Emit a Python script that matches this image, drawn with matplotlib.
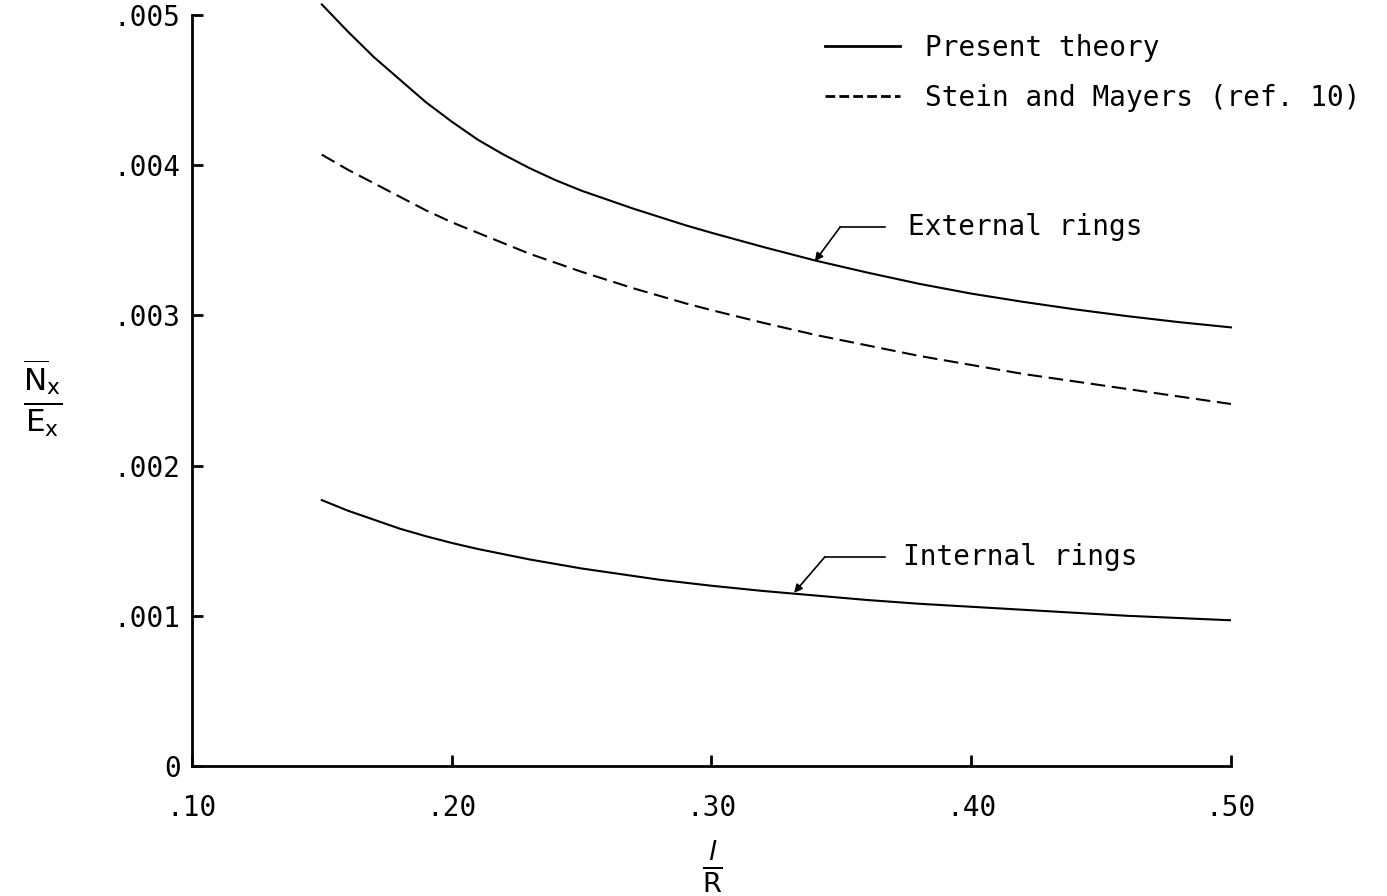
import matplotlib
matplotlib.use("Agg")
import matplotlib.pyplot as plt
from matplotlib.lines import Line2D

plt.rcParams['font.family'] = ['DejaVu Sans Mono', 'DejaVu Sans']
plt.rcParams['mathtext.fontset'] = 'custom'
plt.rcParams['mathtext.rm'] = 'DejaVu Sans'
plt.rcParams['mathtext.it'] = 'DejaVu Sans:italic'

# l/R values
x = [0.15, 0.16, 0.17, 0.18, 0.19, 0.20, 0.21, 0.22, 0.23, 0.24, 0.25, 0.26,
     0.27, 0.28, 0.29, 0.30, 0.32, 0.34, 0.36, 0.38, 0.40, 0.42, 0.44, 0.46,
     0.48, 0.50]

# Present theory, external rings
ext_present = [0.00507, 0.00489, 0.00472, 0.00457, 0.00442, 0.00429, 0.00417,
               0.00407, 0.00398, 0.00390, 0.00383, 0.00377, 0.00371, 0.003655,
               0.00360, 0.00355, 0.003455, 0.003365, 0.003285, 0.00321,
               0.003145, 0.00309, 0.00304, 0.002995, 0.002955, 0.00292]
# Stein and Mayers (ref. 10)
ext_stein = [0.00407, 0.00397, 0.00388, 0.00379, 0.00370, 0.00362, 0.00355,
             0.00348, 0.00341, 0.00335, 0.00329, 0.003235, 0.00318, 0.00313,
             0.00308, 0.003035, 0.00295, 0.00287, 0.00280, 0.00273, 0.00267,
             0.00261, 0.00256, 0.00251, 0.00246, 0.00241]
# Present theory, internal rings
int_present = [0.00177, 0.00170, 0.00164, 0.00158, 0.00153, 0.001485, 0.001445,
               0.00141, 0.001375, 0.001345, 0.001315, 0.00129, 0.001265, 0.00124,
               0.00122, 0.00120, 0.001165, 0.001135, 0.001105, 0.00108, 0.00106,
               0.00104, 0.00102, 0.00100, 0.000985, 0.00097]

xticks = [0.10, 0.20, 0.30, 0.40, 0.50]
xticklabels = [".10", ".20", ".30", ".40", ".50"]
yticks = [0, 0.001, 0.002, 0.003, 0.004, 0.005]
yticklabels = ["0", ".001", ".002", ".003", ".004", ".005"]

fig = plt.figure(figsize=(13.87, 8.96), dpi=100)
ax = fig.add_axes([0.1384, 0.1451, 0.7491, 0.8382])

lw = 1.5
ax.plot(x, ext_present, color="black", lw=lw, clip_on=False)
ax.plot(x, ext_stein, color="black", lw=lw, linestyle=(0, (7, 3.2)))
ax.plot(x, int_present, color="black", lw=lw)

ax.set_xlim(0.10, 0.50)
ax.set_ylim(0, 0.005)
ax.set_xticks(xticks)
ax.set_xticklabels(xticklabels)
ax.set_yticks(yticks)
ax.set_yticklabels(yticklabels)
ax.tick_params(direction="in", length=8, width=2, labelsize=20)
ax.tick_params(axis="x", pad=20)
ax.tick_params(axis="y", pad=8)
for s in ["top", "right"]:
    ax.spines[s].set_visible(False)
for s in ["left", "bottom"]:
    ax.spines[s].set_linewidth(2)

# leader lines for the curve labels
arrow = dict(arrowstyle="-|>", color="black", lw=1.2, mutation_scale=12,
             shrinkA=0, shrinkB=0)
ax.annotate("", xy=(0.3398, 0.00336), xytext=(0.3495, 0.003587), arrowprops=arrow)
ax.plot([0.3495, 0.3668], [0.003587, 0.003587], color="black", lw=1.2)
ax.text(0.3757, 0.003587, "External rings", fontsize=20, va="center", ha="left")

ax.annotate("", xy=(0.3318, 0.001153), xytext=(0.3437, 0.001393), arrowprops=arrow)
ax.plot([0.3437, 0.3668], [0.001393, 0.001393], color="black", lw=1.2)
ax.text(0.3737, 0.001393, "Internal rings", fontsize=20, va="center", ha="left")

handles = [Line2D([], [], color="black", lw=2),
           Line2D([], [], color="black", lw=2, linestyle=(0, (3.5, 1.5)))]
fig.legend(handles, ["Present theory", "Stein and Mayers (ref. 10)"],
           loc="upper left", bbox_to_anchor=(0.577, 0.99), frameon=False,
           fontsize=20, handlelength=2.7, handletextpad=0.9, labelspacing=0.78)

fig.text(0.031, 1 - 398 / 896, r"$\frac{\overline{\mathrm{N}}_\mathrm{x}}{\mathrm{E}_\mathrm{x}}$",
         fontsize=32, ha="center", va="center")
fig.text(712 / 1387, 1 - 866 / 896, r"$\frac{l}{\mathrm{R}}$",
         fontsize=28, ha="center", va="center")

fig.savefig("out.png", dpi=100)
